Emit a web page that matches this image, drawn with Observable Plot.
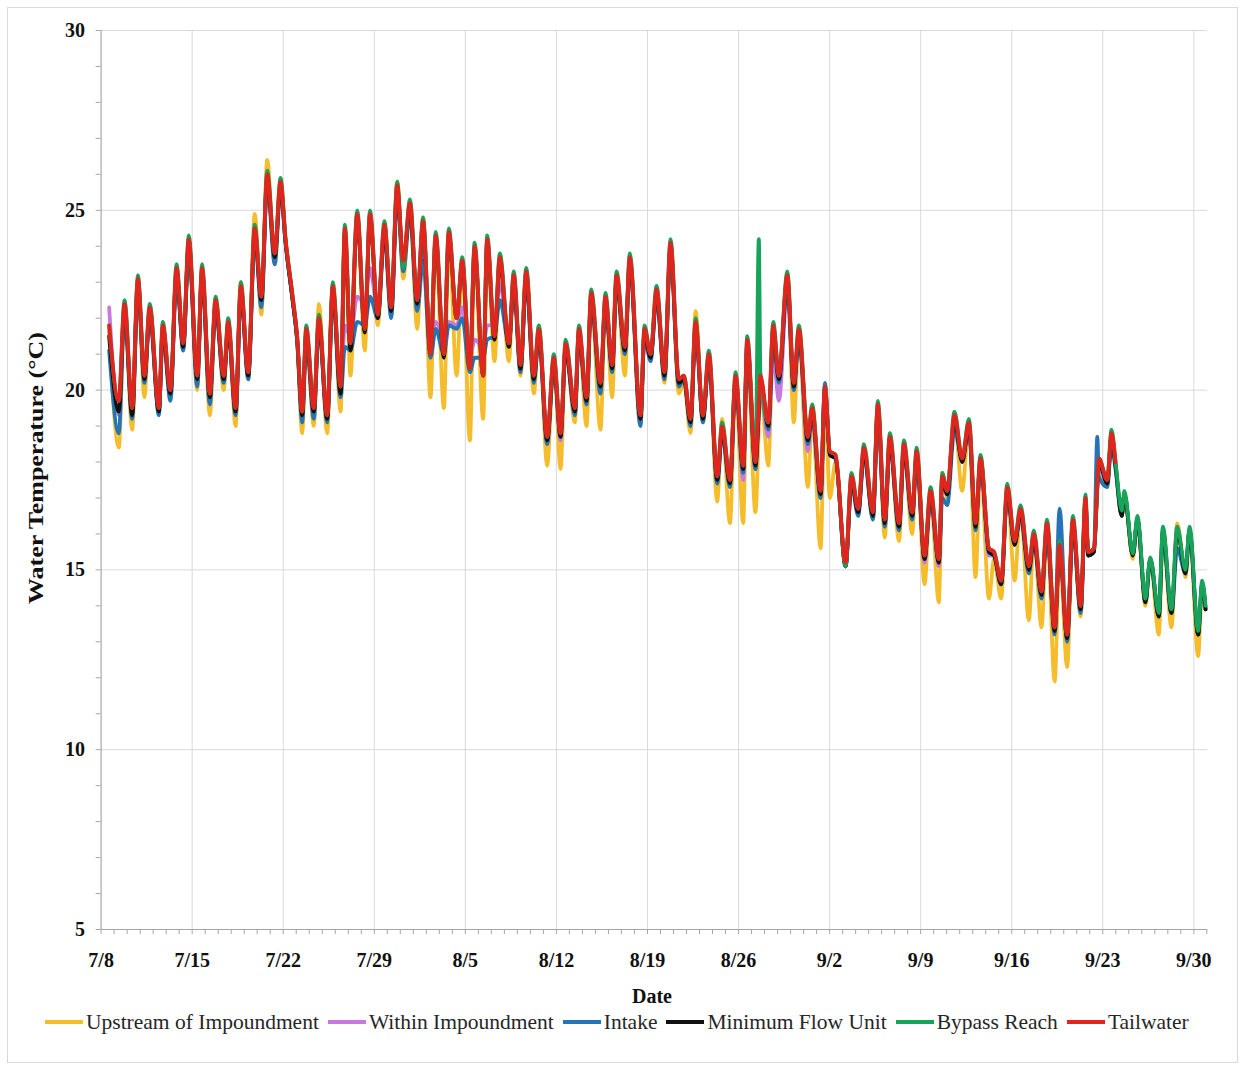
<!DOCTYPE html>
<html>
<head>
<meta charset="utf-8">
<script src="https://cdn.jsdelivr.net/npm/d3@7"></script>
<script src="https://cdn.jsdelivr.net/npm/@observablehq/plot@0.6"></script>
<style>
  body { margin: 0; background: #fff; }
  #frame { position: absolute; left: 7px; top: 7px; width: 1231px; height: 1056px; border: 1px solid #d9d9d9; box-sizing: border-box; }
  #chart { position: absolute; left: 0; top: 0; }
  #legend { position: absolute; left: 45px; top: 1008px; display: flex; align-items: center; font-family: "Liberation Serif", "Times New Roman", serif; font-size: 21.5px; line-height: 28px; color: #262626; white-space: nowrap; }
  .item { display: flex; align-items: center; margin-right: 9px; }
  .sw { width: 38px; height: 3.5px; margin-right: 3px; }
</style>
</head>
<body>
<div id="frame"></div>
<div id="chart"></div>
<div id="legend"></div>
<script>
// Days after 7/8 00:00 of each reading (daily highs and lows)
const dayOffset = [
  0.62, 1.36, 1.80, 2.39, 2.83, 3.33, 3.74, 4.44, 4.74, 5.33,
  5.80, 6.31, 6.74, 7.39, 7.76, 8.36, 8.80, 9.43, 9.77, 10.34,
  10.74, 11.31, 11.81, 12.32, 12.77, 13.35, 13.79, 14.18, 14.69, 15.07,
  15.46, 15.77, 16.35, 16.74, 17.38, 17.81, 18.41, 18.74, 19.17, 19.69,
  20.27, 20.67, 21.27, 21.78, 22.30, 22.76, 23.23, 23.74, 24.30, 24.75,
  25.32, 25.72, 26.35, 26.73, 27.33, 27.76, 28.35, 28.71, 29.37, 29.68,
  30.24, 30.65, 31.35, 31.72, 32.24, 32.68, 33.27, 33.65, 34.29, 34.80,
  35.32, 35.71, 36.42, 36.73, 37.32, 37.67, 38.39, 38.77, 39.29, 39.62,
  40.27, 40.64, 41.46, 41.77, 42.24, 42.70, 43.31, 43.77, 44.41, 44.80,
  45.31, 45.70, 46.26, 46.72, 47.36, 47.74, 48.34, 48.77, 49.36, 49.67,
  50.30, 50.56, 50.68, 51.29, 51.67, 52.10, 52.75, 53.25, 53.64, 54.33,
  54.66, 55.31, 55.64, 56.02, 56.46, 57.23, 57.68, 58.20, 58.64, 59.33,
  59.71, 60.24, 60.63, 61.34, 61.71, 62.35, 62.69, 63.30, 63.76, 64.40,
  64.66, 65.04, 65.60, 66.19, 66.71, 67.22, 67.60, 68.25, 68.64, 69.19,
  69.66, 70.22, 70.68, 71.32, 71.70, 72.29, 72.71, 73.30, 73.68, 74.26,
  74.70, 75.30, 75.67, 75.88, 76.32, 76.58, 76.70, 77.34, 77.67, 77.98,
  78.46, 78.66, 79.31, 79.66, 80.28, 80.65, 81.31, 81.62, 82.28, 82.72,
  83.36, 83.67, 84.33, 84.64, 84.90
];

const upstream = [
  21.6, 18.4, 22.3, 18.9, 23.1, 19.8, 22.3, 19.5, 21.8, 19.8,
  23.4, 21.1, 24.1, 20.0, 23.3, 19.3, 22.5, 20.0, 21.9, 19.0,
  23.0, 20.3, 24.9, 22.1, 26.4, 23.5, 25.8, 24.2, 22.6, 21.4,
  18.8, 21.6, 19.0, 22.4, 18.8, 22.9, 19.4, 24.4, 20.4, 24.9,
  21.1, 24.9, 21.8, 24.6, 22.1, 25.8, 23.1, 25.1, 21.7, 24.8,
  19.8, 24.2, 19.5, 24.3, 20.4, 23.5, 18.6, 24.0, 19.2, 24.2,
  20.8, 23.6, 20.8, 23.2, 20.4, 23.3, 19.9, 21.8, 17.9, 20.9,
  17.8, 21.2, 19.1, 21.6, 19.0, 22.6, 18.9, 22.5, 19.8, 23.1,
  20.4, 23.6, 19.0, 21.6, 20.9, 22.7, 20.2, 24.0, 19.9, 20.2,
  18.8, 22.2, 19.1, 20.9, 16.9, 19.2, 16.3, 20.2, 16.3, 21.2,
  16.6, 19.0, 20.2, 17.9, 21.6, 19.9, 23.2, 19.1, 21.6, 17.3,
  19.4, 15.6, 19.8, 17.0, 18.0, 15.1, 17.5, 16.6, 18.3, 16.4,
  19.6, 15.9, 18.6, 15.8, 18.4, 16.0, 18.2, 14.6, 17.1, 14.1,
  17.7, 17.0, 19.2, 17.2, 19.0, 14.8, 18.0, 14.2, 15.3, 14.2,
  17.2, 14.7, 16.7, 13.6, 16.0, 13.4, 16.2, 11.9, 15.5, 12.3,
  16.3, 13.7, 16.9, 15.4, 15.5, 17.3, 18.0, 17.3, 18.7, 17.9,
  16.5, 17.1, 15.3, 16.4, 14.0, 15.3, 13.2, 16.1, 13.4, 16.3,
  14.8, 16.1, 12.6, 14.6, 13.9
];

const within = [
  22.3, 19.3, 22.2, 19.4, 22.9, 20.3, 22.1, 19.4, 21.6, 19.9,
  23.2, 21.2, 24.0, 20.3, 23.2, 19.8, 22.3, 20.3, 21.7, 19.4,
  22.7, 20.4, 24.3, 22.5, 25.8, 23.7, 25.6, 24.1, 22.6, 21.4,
  19.3, 21.5, 19.4, 21.8, 19.2, 22.7, 20.0, 21.8, 21.5, 22.6,
  22.4, 23.4, 22.2, 24.4, 22.2, 25.5, 23.5, 25.0, 22.4, 24.0,
  21.3, 21.9, 21.5, 21.9, 21.8, 22.3, 20.9, 21.4, 21.2, 21.8,
  21.8, 23.0, 21.3, 23.0, 20.6, 23.1, 20.3, 21.5, 18.6, 20.7,
  18.6, 21.1, 19.4, 21.5, 19.7, 22.5, 20.1, 22.4, 20.6, 23.0,
  21.1, 23.5, 19.2, 21.5, 20.9, 22.6, 20.4, 23.9, 20.2, 20.3,
  19.1, 21.7, 19.2, 20.8, 17.5, 18.8, 17.4, 20.2, 17.5, 21.2,
  17.8, 19.4, 20.0, 18.7, 21.0, 19.7, 22.8, 20.0, 21.5, 18.3,
  19.3, 17.0, 19.9, 18.2, 18.1, 15.1, 17.4, 16.6, 18.2, 16.5,
  19.4, 16.3, 18.5, 16.2, 18.3, 16.5, 18.1, 15.2, 17.0, 15.1,
  17.4, 17.1, 19.1, 18.0, 18.9, 16.2, 17.9, 15.4, 15.4, 14.6,
  17.1, 15.7, 16.5, 15.0, 15.8, 14.3, 16.1, 13.3, 15.5, 13.1,
  16.2, 13.9, 16.8, 15.4, 15.5, 17.3, 17.9, 17.4, 18.6, 17.9,
  null, null, null, null, null, null, null, null, null, null,
  null, null, null, null, null
];

const intake = [
  21.1, 18.8, 22.2, 19.2, 22.9, 20.2, 22.1, 19.3, 21.6, 19.7,
  23.2, 21.1, 24.0, 20.1, 23.2, 19.6, 22.3, 20.2, 21.7, 19.3,
  22.7, 20.3, 24.3, 22.3, 25.8, 23.5, 25.6, 24.1, 22.6, 21.4,
  19.1, 21.5, 19.2, 21.8, 19.1, 22.7, 19.8, 21.2, 21.1, 21.9,
  21.8, 22.6, 22.0, 24.3, 22.0, 25.4, 23.3, 24.9, 22.2, 23.6,
  20.9, 21.7, 21.0, 21.8, 21.7, 22.0, 20.5, 20.9, 20.9, 21.4,
  21.5, 22.5, 21.3, 22.9, 20.5, 23.0, 20.2, 21.5, 18.5, 20.7,
  18.7, 21.1, 19.3, 21.5, 19.6, 22.5, 19.9, 22.4, 20.5, 23.0,
  21.0, 23.5, 19.0, 21.5, 20.8, 22.6, 20.3, 23.9, 20.1, 20.3,
  19.0, 21.7, 19.1, 20.8, 17.4, 18.8, 17.3, 20.2, 17.7, 21.2,
  17.8, 19.4, 20.2, 18.9, 21.4, 20.2, 23.0, 20.0, 21.5, 18.5,
  19.3, 17.0, 20.2, 18.2, 18.1, 15.1, 17.4, 16.5, 18.2, 16.4,
  19.4, 16.2, 18.5, 16.1, 18.3, 16.4, 18.1, 15.3, 17.0, 15.2,
  17.0, 16.8, 18.9, 18.1, 18.9, 16.1, 18.1, 15.5, 15.4, 14.6,
  17.1, 15.7, 16.5, 14.9, 15.8, 14.2, 16.1, 13.2, 16.7, 13.0,
  16.2, 13.8, 16.8, 15.4, 15.5, 18.7, 17.6, 17.3, 18.5, 17.8,
  16.5, 17.1, 15.4, 16.4, 14.1, 15.3, 13.7, 16.0, 13.8, 15.6,
  14.9, 16.1, 13.2, 14.6, 13.9
];

const minFlow = [
  21.5, 19.4, 22.3, 19.3, 23.0, 20.3, 22.2, 19.4, 21.7, 19.9,
  23.3, 21.2, 24.1, 20.3, 23.3, 19.8, 22.4, 20.3, 21.8, 19.4,
  22.8, 20.4, 24.4, 22.5, 25.9, 23.7, 25.7, 24.1, 22.6, 21.4,
  19.3, 21.6, 19.4, 21.9, 19.2, 22.8, 19.9, 24.4, 21.1, 24.8,
  21.6, 24.8, 22.0, 24.5, 22.2, 25.6, 23.5, 25.1, 22.4, 24.6,
  21.0, 24.2, 20.9, 24.3, 22.0, 23.5, 20.6, 23.9, 20.4, 24.1,
  21.4, 23.6, 21.2, 23.1, 20.6, 23.2, 20.3, 21.6, 18.6, 20.8,
  18.7, 21.2, 19.4, 21.6, 19.7, 22.6, 20.1, 22.5, 20.6, 23.1,
  21.1, 23.6, 19.2, 21.6, 20.9, 22.7, 20.4, 24.0, 20.2, 20.3,
  19.1, 21.8, 19.2, 20.9, 17.5, 18.9, 17.4, 20.3, 17.8, 21.3,
  17.9, 19.5, 20.3, 19.0, 21.7, 20.3, 23.1, 20.1, 21.6, 18.6,
  19.4, 17.1, 20.0, 18.2, 18.1, 15.1, 17.5, 16.6, 18.3, 16.5,
  19.5, 16.3, 18.6, 16.2, 18.4, 16.5, 18.2, 15.3, 17.1, 15.2,
  17.5, 17.1, 19.2, 18.0, 19.0, 16.2, 18.0, 15.5, 15.4, 14.6,
  17.2, 15.7, 16.6, 15.0, 15.9, 14.3, 16.2, 13.3, 15.6, 13.1,
  16.3, 13.9, 16.9, 15.4, 15.5, 17.3, 18.0, 17.4, 18.7, 17.9,
  16.5, 17.1, 15.4, 16.4, 14.1, 15.3, 13.7, 16.1, 13.8, 16.1,
  14.9, 16.1, 13.2, 14.6, 13.9
];

const bypass = [
  21.8, 19.7, 22.5, 19.5, 23.2, 20.4, 22.4, 19.5, 21.9, 20.0,
  23.5, 21.3, 24.3, 20.4, 23.5, 19.9, 22.6, 20.4, 22.0, 19.5,
  23.0, 20.5, 24.6, 22.6, 26.1, 23.8, 25.9, 24.2, 22.7, 21.5,
  19.4, 21.8, 19.5, 22.1, 19.3, 23.0, 20.1, 24.6, 21.3, 25.0,
  21.7, 25.0, 22.1, 24.7, 22.3, 25.8, 23.4, 25.3, 22.5, 24.8,
  21.0, 24.4, 21.0, 24.5, 22.0, 23.7, 20.6, 24.1, 20.4, 24.3,
  21.5, 23.8, 21.3, 23.3, 20.7, 23.4, 20.4, 21.8, 18.7, 21.0,
  18.8, 21.4, 19.5, 21.8, 19.8, 22.8, 20.2, 22.7, 20.7, 23.3,
  21.2, 23.8, 19.3, 21.8, 21.0, 22.9, 20.5, 24.2, 20.3, 20.4,
  19.2, 22.0, 19.3, 21.1, 17.6, 19.1, 17.5, 20.5, 17.9, 21.5,
  18.0, 24.2, 20.5, 19.1, 21.9, 20.4, 23.3, 20.2, 21.8, 18.7,
  19.6, 17.2, 20.1, 18.3, 18.2, 15.1, 17.7, 16.7, 18.5, 16.6,
  19.7, 16.4, 18.8, 16.3, 18.6, 16.6, 18.4, 15.4, 17.3, 15.3,
  17.7, 17.2, 19.4, 18.1, 19.2, 16.3, 18.2, 15.6, 15.5, 14.7,
  17.4, 15.8, 16.8, 15.1, 16.1, 14.4, 16.4, 13.4, 15.8, 13.2,
  16.5, 14.0, 17.1, 15.5, 15.6, 17.4, 18.1, 17.5, 18.9, 18.0,
  16.65, 17.2, 15.45, 16.5, 14.2, 15.35, 13.8, 16.2, 13.9, 16.2,
  15.0, 16.2, 13.3, 14.7, 14.0
];

const tailwater = [
  21.8, 19.7, 22.4, 19.5, 23.1, 20.4, 22.3, 19.5, 21.8, 20.0,
  23.4, 21.3, 24.2, 20.4, 23.4, 19.9, 22.5, 20.4, 21.9, 19.5,
  22.9, 20.5, 24.5, 22.6, 26.0, 23.8, 25.8, 24.2, 22.7, 21.5,
  19.4, 21.7, 19.5, 22.0, 19.3, 22.9, 20.1, 24.5, 21.3, 24.9,
  21.7, 24.9, 22.1, 24.6, 22.3, 25.7, 23.6, 25.2, 22.5, 24.7,
  21.0, 24.3, 21.0, 24.4, 22.0, 23.6, 20.6, 24.0, 20.4, 24.2,
  21.5, 23.7, 21.3, 23.2, 20.7, 23.3, 20.4, 21.7, 18.7, 20.9,
  18.8, 21.3, 19.5, 21.7, 19.8, 22.7, 20.2, 22.6, 20.7, 23.2,
  21.2, 23.7, 19.3, 21.7, 21.0, 22.8, 20.5, 24.1, 20.3, 20.4,
  19.2, 21.9, 19.3, 21.0, 17.6, 19.0, 17.5, 20.4, 17.9, 21.4,
  18.0, 19.6, 20.4, 19.1, 21.8, 20.4, 23.2, 20.2, 21.7, 18.7,
  19.5, 17.2, 20.1, 18.3, 18.2, 15.2, 17.6, 16.7, 18.4, 16.6,
  19.6, 16.4, 18.7, 16.3, 18.5, 16.6, 18.3, 15.4, 17.2, 15.3,
  17.6, 17.2, 19.3, 18.1, 19.1, 16.3, 18.1, 15.6, 15.5, 14.7,
  17.3, 15.8, 16.7, 15.1, 16.0, 14.4, 16.3, 13.4, 15.7, 13.2,
  16.4, 14.0, 17.0, 15.5, 15.6, 17.4, 18.1, 17.5, 18.8, 18.0,
  null, null, null, null, null, null, null, null, null, null,
  null, null, null, null, null
];

const seriesNames = ["Upstream of Impoundment", "Within Impoundment", "Intake", "Minimum Flow Unit", "Bypass Reach", "Tailwater"];
const seriesColors = ["#f5bd2b", "#c879e0", "#2574b5", "#111111", "#18a35b", "#e3241c"];
const seriesValues = [upstream, within, intake, minFlow, bypass, tailwater];

const weekTickDays = [0, 7, 14, 21, 28, 35, 42, 49, 56, 63, 70, 77, 84];
const weekTickLabels = ["7/8", "7/15", "7/22", "7/29", "8/5", "8/12", "8/19", "8/26", "9/2", "9/9", "9/16", "9/23", "9/30"];
const yTicks = [5, 10, 15, 20, 25, 30];

seriesValues.forEach((v, k) => {
  if (v.length !== dayOffset.length) throw new Error(seriesNames[k] + " length " + v.length + " vs " + dayOffset.length);
});

const base = Date.UTC(2019, 6, 8);
const toDate = d => new Date(base + d * 864e5);
const xStart = toDate(0), xEnd = toDate(85.05);
const weekDates = weekTickDays.map(toDate);
const labelByTime = new Map(weekDates.map((d, i) => [+d, weekTickLabels[i]]));
const dayDates = d3.range(0, 86).map(toDate);
const yMinor = d3.range(5, 31, 1);

const lineMarks = seriesValues.map((vals, k) => {
  const rows = dayOffset.map((d, i) => ({date: toDate(d), v: vals[i]})).filter(r => r.v != null);
  return Plot.line(rows, {x: "date", y: "v", stroke: seriesColors[k], strokeWidth: 3.8, curve: "monotone-x"});
});

const axisColor = "#a6a6a6";
const chart = Plot.plot({
  width: 1245,
  height: 1000,
  marginTop: 30,
  marginBottom: 71,
  marginLeft: 100.6,
  marginRight: 38,
  style: {fontFamily: "'Liberation Serif', 'Times New Roman', serif", fontSize: "20px", fontWeight: "bold", color: "#111", background: "transparent", overflow: "visible"},
  x: {type: "utc", domain: [xStart, xEnd], label: null},
  y: {domain: [5, 30], label: null},
  marks: [
    Plot.gridY({ticks: yTicks, stroke: "#d9d9d9", strokeOpacity: 1, strokeWidth: 1}),
    Plot.gridX({ticks: weekDates, stroke: "#d9d9d9", strokeOpacity: 1, strokeWidth: 1}),
    Plot.axisY({ticks: yMinor, tickSize: 5, tickFormat: () => "", stroke: axisColor, strokeOpacity: 1, label: null}),
    Plot.axisY({ticks: yTicks, tickSize: 0, tickPadding: 16, label: null, fill: "#111"}),
    Plot.axisX({ticks: dayDates, tickSize: 5, tickFormat: () => "", stroke: axisColor, strokeOpacity: 1, label: null}),
    Plot.axisX({ticks: weekDates, tickSize: 0, tickPadding: 23, tickFormat: d => labelByTime.get(+d), label: null, fill: "#111"}),
    Plot.ruleY([5], {stroke: axisColor}),
    Plot.ruleX([xStart], {stroke: axisColor}),
    ...lineMarks
  ]
});

const svg = d3.select(chart);
svg.append("text")
  .attr("transform", "translate(36,468) rotate(-90)")
  .attr("text-anchor", "middle")
  .attr("dy", "0.35em")
  .attr("font-weight", "bold")
  .attr("font-size", 20)
  .attr("fill", "#111")
  .attr("textLength", 272)
  .attr("lengthAdjust", "spacingAndGlyphs")
  .text("Water Temperature (°C)");
svg.append("text")
  .attr("x", 652)
  .attr("y", 996)
  .attr("text-anchor", "middle")
  .attr("dy", "0.35em")
  .attr("font-weight", "bold")
  .attr("font-size", 20)
  .attr("fill", "#111")
  .text("Date");

document.getElementById("chart").appendChild(chart);

const legend = d3.select("#legend");
seriesNames.forEach((name, k) => {
  const item = legend.append("div").attr("class", "item");
  item.append("div").attr("class", "sw").style("background", seriesColors[k]);
  item.append("span").text(name);
});
</script>
</body>
</html>
